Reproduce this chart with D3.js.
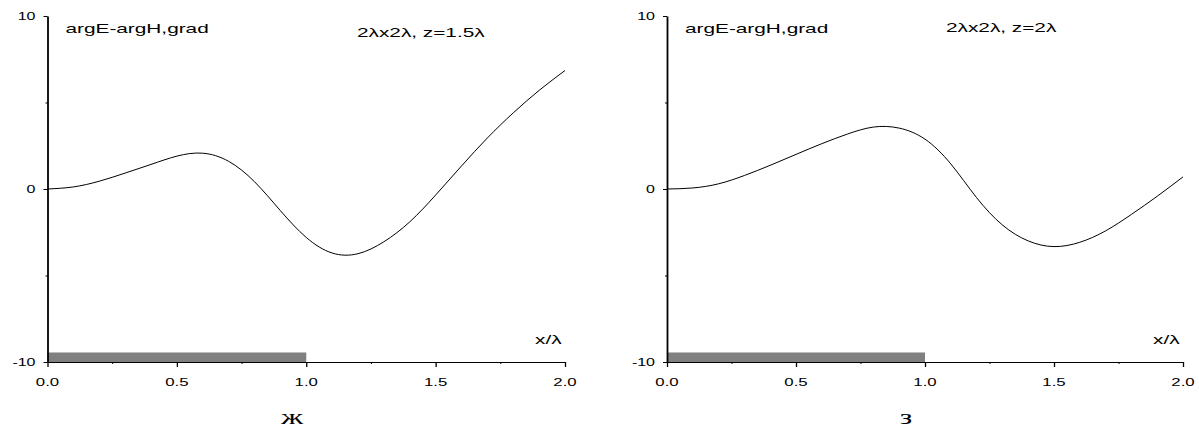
<!DOCTYPE html>
<html>
<head>
<meta charset="utf-8">
<script src="https://cdn.jsdelivr.net/npm/d3@7"></script>
<style>
	body { margin: 0; background: #fff; }
	svg { display: block; }
	text { font-family: Arial, 'Liberation Sans', sans-serif; fill: #000; }
	.panel-label { font-family: 'Liberation Serif', 'Times New Roman', serif; }
</style>
</head>
<body>
<svg id="chart-svg" width="1199" height="434"></svg>
<script>
// values
const X_TICKS = [0, 0.5, 1.0, 1.5, 2.0];
const X_MINOR = [0.25, 0.75, 1.25, 1.75];
const X_TICK_LABELS = ['0.0', '0.5', '1.0', '1.5', '2.0'];
const Y_TICKS = [-10, 0, 10];
const Y_MINOR = [-5, 5];
const Y_TICK_LABELS = ['-10', '0', '10'];
const BAR_RANGE = [0, 1.0];
const BAR_LEVEL = [-10, -9.45];

const gridX = [0, 0.1, 0.2, 0.3, 0.4, 0.5, 0.6, 0.7, 0.8, 0.9, 1.0, 1.1, 1.2, 1.3, 1.4, 1.5, 1.6, 1.7, 1.8, 1.9, 2.0];
// z = 1.5 lambda
const leftY = [0, 0.12, 0.45, 0.92, 1.42, 1.9, 2.07, 1.6, 0.42, -1.25, -2.8, -3.7, -3.74, -3.05, -1.9, -0.35, 1.33, 2.95, 4.4, 5.7, 6.85];
// z = 2 lambda
const rightY = [0, 0.06, 0.3, 0.78, 1.37, 2.0, 2.62, 3.18, 3.58, 3.52, 2.88, 1.45, -0.5, -2.08, -3.0, -3.33, -3.08, -2.42, -1.47, -0.42, 0.7];

const panels = [
	{ ys: leftY, left: 47.5, right: 565, sub: '2λx2λ, z=1.5λ', subX: 357, subY: 37, tag: 'ж', tagX: 292 },
	{ ys: rightY, left: 667, right: 1183, sub: '2λx2λ, z=2λ', subX: 946, subY: 32, tag: 'з', tagX: 906 }
];

const STRETCH = 1.6;
const svg = d3.select('#chart-svg');

// text is horizontally stretched in the original
function stretchText(g, x, y, str, anchor, size, cls, sx) {
	return g
		.append('text')
		.attr('class', cls || null)
		.attr('text-anchor', anchor)
		.attr('font-size', size)
		.attr('transform', 'translate(' + x + ',' + y + ') scale(' + (sx || STRETCH) + ',1)')
		.text(str);
}

panels.forEach((p) => {
	const g = svg.append('g');
	const xScale = d3.scaleLinear().domain([0, 2]).range([p.left, p.right]);
	const yScale = d3.scaleLinear().domain([-10, 10]).range([362, 16]);

	// gray bar along the bottom
	g
		.append('rect')
		.attr('x', xScale(BAR_RANGE[0]))
		.attr('y', yScale(BAR_LEVEL[1]))
		.attr('width', xScale(BAR_RANGE[1]) - xScale(BAR_RANGE[0]))
		.attr('height', yScale(BAR_LEVEL[0]) - yScale(BAR_LEVEL[1]))
		.attr('fill', '#808080');

	// x axis
	const xAxis = d3.axisBottom(xScale).tickValues(X_TICKS).tickSize(5).tickSizeOuter(0).tickFormat('');
	const xg = g.append('g').attr('transform', 'translate(0,' + yScale(-10) + ')').call(xAxis);
	const xMinor = d3.axisBottom(xScale).tickValues(X_MINOR).tickSize(2).tickSizeOuter(0).tickFormat('');
	g.append('g').attr('transform', 'translate(0,' + yScale(-10) + ')').call(xMinor).select('.domain').remove();
	xg.select('.domain').attr('stroke', '#000').attr('stroke-width', 1);
	xg.selectAll('.tick line').attr('stroke-width', 1.3);

	// y axis
	const yAxis = d3.axisLeft(yScale).tickValues(Y_TICKS).tickSize(4).tickSizeOuter(0).tickFormat('');
	const yg = g.append('g').attr('transform', 'translate(' + p.left + ',0)').call(yAxis);
	const yMinor = d3.axisLeft(yScale).tickValues(Y_MINOR).tickSize(2).tickSizeOuter(0).tickFormat('');
	g.append('g').attr('transform', 'translate(' + p.left + ',0)').call(yMinor).select('.domain').remove();
	yg.select('.domain').attr('stroke', '#000').attr('stroke-width', 1.8);

	// tick labels
	X_TICKS.forEach((v, i) => stretchText(g, xScale(v), 386, X_TICK_LABELS[i], 'middle', 10.5));
	Y_TICKS.forEach((v, i) => stretchText(g, p.left - 12, yScale(v) + 3.5, Y_TICK_LABELS[i], 'end', 10));

	// curve
	const line = d3
		.line()
		.x((d) => xScale(d[0]))
		.y((d) => yScale(d[1]))
		.curve(d3.curveNatural);
	g
		.append('path')
		.datum(d3.zip(gridX, p.ys))
		.attr('d', line)
		.attr('fill', 'none')
		.attr('stroke', '#000')
		.attr('stroke-width', 1);

	// labels
	stretchText(g, p.left + 18, 33, 'argE-argH,grad', 'start', 13);
	stretchText(g, p.subX, p.subY, p.sub, 'start', 13);
	stretchText(g, p.right - 30, 344, 'x/λ', 'start', 13);
	stretchText(g, p.tagX, 424, p.tag, 'middle', 21, 'panel-label', 1.5);
});
</script>
</body>
</html>
